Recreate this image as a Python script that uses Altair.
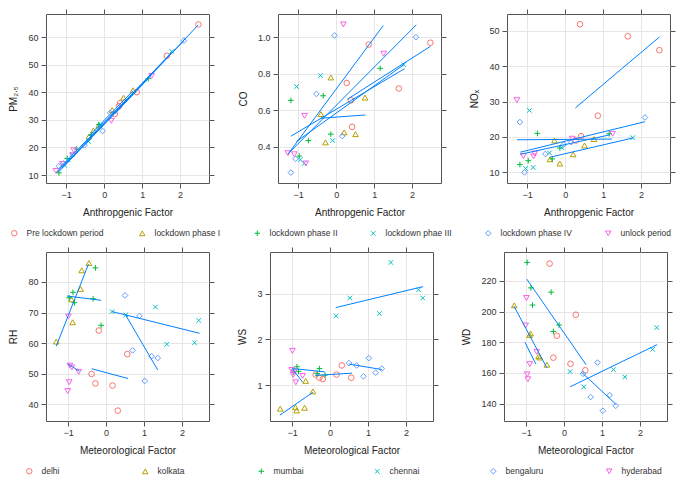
import altair as alt
import pandas as pd

# ---------------- categories / styles ----------------
phases = ["Pre lockdown  period", "lockdown phase I", "lockdown phase II",
          "lockdown phae III", "lockdown phase IV", "unlock period"]
cities = ["delhi", "kolkata", "mumbai", "chennai", "bengaluru", "hyderabad"]
palette = ["#F8766D", "#B79F00", "#00BA38", "#00BFC4", "#619CFF", "#F564E3"]
symbols = ["circle", "triangle-up", "M-1,0L1,0M0,-1L0,1",
           "M-0.8,-0.8L0.8,0.8M-0.8,0.8L0.8,-0.8", "diamond", "triangle-down"]

# ---------------- top row: anthropogenic factor ----------------
pre_x = [2.48, 1.65, 0.86, 0.42, 0.39, 0.28]
pre_pm = [64.7, 53.3, 40.1, 36.1, 35.0, 32.2]
pre_co = [0.97, 0.72, 0.96, 0.51, 0.655, 0.75]
pre_nox = [44.5, 48.4, 26.0, 20.2, 51.8, 19.0]

p1_x = [0.76, 0.51, 0.21, -0.14, -0.28, -0.40]
p1_pm = [40.8, 38.1, 33.6, 28.0, 26.2, 24.0]
p1_co = [0.67, 0.47, 0.48, 0.78, 0.425, 0.58]
p1_nox = [19.4, 17.6, 15.1, 12.5, 19.0, 13.7]

p2_x = [1.16, -0.14, -0.34, -0.73, -0.97, -1.19]
p2_pm = [45.0, 28.4, 24.5, 19.5, 16.0, 10.8]
p2_co = [0.83, 0.47, 0.68, 0.435, 0.35, 0.655]
p2_nox = [20.9, 16.9, 13.8, 21.0, 13.3, 12.2]

p3_x = [1.78, -0.09, -0.41, -0.84, -0.94, -1.04]
p3_pm = [54.9, 28.2, 22.2, 17.5, 15.5, 13.5]
p3_co = [0.85, 0.435, 0.79, 0.31, 0.33, 0.73]
p3_nox = [19.8, 17.0, 15.5, 11.4, 27.5, 11.1]

p4_x = [2.10, 0.16, -0.04, -0.52, -1.07, -1.19]
p4_pm = [58.8, 32.6, 26.0, 20.8, 14.2, 13.2]
p4_co = [1.00, 0.46, 1.01, 0.69, 0.335, 0.26]
p4_nox = [25.5, 18.5, 17.8, 15.2, 10.0, 24.2]

un_x = [1.25, 0.19, -0.80, -0.83, -1.10, -1.27]
un_pm = [46.0, 29.7, 19.0, 17.2, 14.0, 11.5]
un_co = [0.91, 1.07, 0.31, 0.57, 0.36, 0.366]
un_nox = [20.9, 19.5, 15.3, 14.5, 14.6, 30.4]

# fitted segments (x1, y1, x2, y2)
pm_lines = [(-1.25, 10.8, 1.25, 46.5), (-1.19, 12.3, 2.10, 58.8), (0.28, 32.2, 2.48, 64.6),
            (-1.19, 11.2, 1.16, 45.0), (-1.04, 13.6, 1.78, 54.6), (-0.40, 24.2, 0.76, 40.6)]
co_lines = [(-1.27, 0.36, 1.24, 1.064), (-1.23, 0.37, 2.11, 1.068), (-1.19, 0.459, 1.80, 0.828),
            (0.29, 0.66, 2.48, 0.95), (-1.04, 0.43, 1.78, 0.85), (-0.41, 0.557, 0.77, 0.575)]
nox_lines = [(0.27, 28.2, 2.48, 48.2), (-1.27, 19.2, 1.23, 19.4), (-1.18, 15.7, 2.10, 24.3),
             (-1.18, 15.1, 1.18, 20.6), (-0.39, 14.3, 1.78, 19.7)]

# ---------------- bottom row: meteorological factor ----------------
delhi_x = [-0.38, -0.28, -0.19, 0.17, 0.31, 0.56]
delhi_rh = [49.9, 46.8, 64.1, 46.1, 37.9, 56.4]
delhi_ws = [1.23, 1.16, 1.13, 1.23, 1.43, 1.16]
delhi_wd = [231.2, 169.9, 184.2, 165.9, 197.9, 161.7]

kolkata_x = [-1.31, -0.91, -0.88, -0.67, -0.64, -0.45]
kolkata_rh = [60.5, 74.3, 66.8, 77.7, 83.8, 86.2]
kolkata_ws = [0.48, 0.51, 0.44, 0.50, 1.09, 0.86]
kolkata_wd = [204.0, 184.6, 185.7, 170.9, 170.0, 165.3]

mumbai_x = [-0.97, -0.87, -0.83, -0.34, -0.28, -0.13]
mumbai_rh = [74.8, 76.6, 73.2, 74.5, 84.6, 65.8]
mumbai_ws = [1.28, 1.40, 1.30, 1.25, 1.36, 1.22]
mumbai_wd = [232.0, 215.4, 204.2, 212.6, 187.0, 191.2]

chennai_x = [0.16, 0.52, 1.30, 1.60, 2.33, 2.44]
chennai_rh = [70.3, 69.2, 71.8, 59.6, 60.1, 67.4]
chennai_ws = [2.52, 2.91, 2.57, 3.69, 3.09, 2.91]
chennai_wd = [160.8, 150.9, 162.1, 157.3, 175.3, 189.5]

bengaluru_x = [0.50, 0.70, 0.88, 1.02, 1.20, 1.36]
bengaluru_rh = [75.6, 57.6, 68.9, 47.6, 55.7, 55.1]
bengaluru_ws = [1.48, 1.43, 1.19, 1.59, 1.27, 1.36]
bengaluru_wd = [159.4, 144.2, 166.7, 135.3, 145.5, 138.5]

hyderabad_x = [-1.01, -0.99, -0.97, -0.95, -0.90, -0.72]
hyderabad_rh = [44.3, 68.7, 47.2, 52.6, 52.0, 50.6]
hyderabad_ws = [1.33, 1.75, 1.22, 1.28, 1.06, 1.20]
hyderabad_wd = [190.9, 208.8, 159.0, 155.8, 165.7, 173.7]

rh_lines = [(-1.31, 59.0, -0.46, 85.9), (-1.03, 75.4, -0.13, 74.0), (0.16, 70.3, 2.46, 63.2),
            (0.52, 69.1, 1.36, 51.2), (-0.38, 51.6, 0.58, 48.4), (-1.01, 53.2, -0.70, 50.8)]
ws_lines = [(0.15, 2.70, 2.45, 3.16), (0.50, 1.46, 1.36, 1.34), (-0.39, 1.21, 0.58, 1.26),
            (-0.97, 1.36, -0.14, 1.29), (-1.00, 1.37, -0.72, 1.06), (-1.32, 0.34, -0.45, 0.84)]
wd_lines = [(-0.98, 221.1, 0.58, 165.3), (-1.32, 203.6, -0.45, 163.2), (-1.03, 180.0, -0.74, 165.7),
            (0.46, 160.4, 1.37, 139.4), (0.16, 150.9, 2.45, 178.4)]

# ---------------- build tables ----------------
top_rows = []
for ph, xs, a, b, c in zip(phases,
                           [pre_x, p1_x, p2_x, p3_x, p4_x, un_x],
                           [pre_pm, p1_pm, p2_pm, p3_pm, p4_pm, un_pm],
                           [pre_co, p1_co, p2_co, p3_co, p4_co, un_co],
                           [pre_nox, p1_nox, p2_nox, p3_nox, p4_nox, un_nox]):
    for xv, pv, cv, nv in zip(xs, a, b, c):
        top_rows.append({"grp": ph, "x": xv, "pm": pv, "co": cv, "nox": nv})
top_df = pd.DataFrame(top_rows)

bot_rows = []
for ct, xs, a, b, c in zip(cities,
                           [delhi_x, kolkata_x, mumbai_x, chennai_x, bengaluru_x, hyderabad_x],
                           [delhi_rh, kolkata_rh, mumbai_rh, chennai_rh, bengaluru_rh, hyderabad_rh],
                           [delhi_ws, kolkata_ws, mumbai_ws, chennai_ws, bengaluru_ws, hyderabad_ws],
                           [delhi_wd, kolkata_wd, mumbai_wd, chennai_wd, bengaluru_wd, hyderabad_wd]):
    for xv, rv, sv, dv in zip(xs, a, b, c):
        bot_rows.append({"grp": ct, "x": xv, "rh": rv, "ws": sv, "wd": dv})
bot_df = pd.DataFrame(bot_rows)


def seg_df(segs):
    return pd.DataFrame(segs, columns=["x1", "y1", "x2", "y2"])


PW, PH = 163, 169
XT = [-1, 0, 1, 2]


def panel(df, lines, ycol, ytitle, ydom, yticks, xdom, xtitle, domain, legend, yfmt=None):
    xscale = alt.Scale(domain=xdom, nice=False, zero=False)
    yscale = alt.Scale(domain=ydom, nice=False, zero=False)
    yaxis_kw = dict(values=yticks, grid=True, titlePadding=9, labelPadding=3)
    if yfmt:
        yaxis_kw["format"] = yfmt
    pts = alt.Chart(df).mark_point(filled=False, size=32, strokeWidth=1, opacity=1).encode(
        x=alt.X("x:Q", scale=xscale, title=xtitle,
                axis=alt.Axis(values=XT, grid=True, titlePadding=8)),
        y=alt.Y(f"{ycol}:Q", scale=yscale, title=ytitle, axis=alt.Axis(**yaxis_kw)),
        color=alt.Color("grp:N", scale=alt.Scale(domain=domain, range=palette), legend=legend),
        shape=alt.Shape("grp:N", scale=alt.Scale(domain=domain, range=symbols), legend=legend),
    )
    segs = alt.Chart(seg_df(lines)).mark_rule(color="#0080ff", strokeWidth=1).encode(
        x=alt.X("x1:Q", scale=xscale, title=None,
                axis=alt.Axis(orient="top", values=XT, labels=False, grid=False, titlePadding=0)),
        x2=alt.X2("x2:Q", title=None),
        y=alt.Y("y1:Q", scale=yscale, title=None,
                axis=alt.Axis(orient="right", values=yticks, labels=False, grid=False, titlePadding=0)),
        y2=alt.Y2("y2:Q", title=None),
    )
    return alt.layer(pts, segs).resolve_axis(x="independent", y="independent").properties(
        width=PW, height=PH)


leg_top = alt.Legend(title=None, orient="none", legendX=-36, legendY=PH + 46,
                     direction="horizontal", columns=6,
                     gridAlign="each", columnPadding=31, labelFontSize=8.5,
                     symbolSize=30, symbolStrokeWidth=1, labelOffset=8)
leg_bot = alt.Legend(title=None, orient="none", legendX=-21, legendY=PH + 46,
                     direction="horizontal", columns=6,
                     gridAlign="all", columnPadding=58, labelFontSize=8.5,
                     symbolSize=30, symbolStrokeWidth=1, labelOffset=8)

XA = [-1.53, 2.76]
XB = [-1.58, 2.71]
AT = "Anthropgenic Factor"
MT = "Meteorological Factor"

row1 = alt.hconcat(
    panel(top_df, pm_lines, "pm", "PM₂.₅", [7.1, 68.5], [10, 20, 30, 40, 50, 60], XA, AT, phases, leg_top),
    panel(top_df, co_lines, "co", "CO", [0.203, 1.127], [0.4, 0.6, 0.8, 1.0], XA, AT, phases, leg_top, ".1f"),
    panel(top_df, nox_lines, "nox", "NOₓ", [7.0, 54.7], [10, 20, 30, 40, 50], XA, AT, phases, leg_top),
    spacing=22,
)
row2 = alt.hconcat(
    panel(bot_df, rh_lines, "rh", "RH", [34.5, 89.8], [40, 50, 60, 70, 80], XB, MT, cities, leg_bot),
    panel(bot_df, ws_lines, "ws", "WS", [0.21, 3.92], [1, 2, 3], XB, MT, cities, leg_bot),
    panel(bot_df, wd_lines, "wd", "WD", [128.6, 238.8], [140, 160, 180, 200, 220], XB, MT, cities, leg_bot),
    spacing=22,
)

chart = alt.vconcat(row1, row2, spacing=8).resolve_scale(
    color="independent", shape="independent"
).properties(padding=0).configure(
    font="Liberation Sans"
).configure_axis(
    labelFont="Liberation Sans", labelFontSize=9, labelColor="#333333",
    titleFont="Liberation Sans", titleFontSize=10, titleFontWeight="normal", titleColor="#222222",
    tickColor="#555555", tickSize=5, labelPadding=2, domain=False,
    gridColor="#e6e6e6", gridWidth=1,
).configure_view(
    stroke="#555555", strokeWidth=1
).configure_legend(
    labelFont="Liberation Sans", labelColor="#333333",
)

chart.save("out.html", embed_options={"renderer": "svg", "actions": False})
